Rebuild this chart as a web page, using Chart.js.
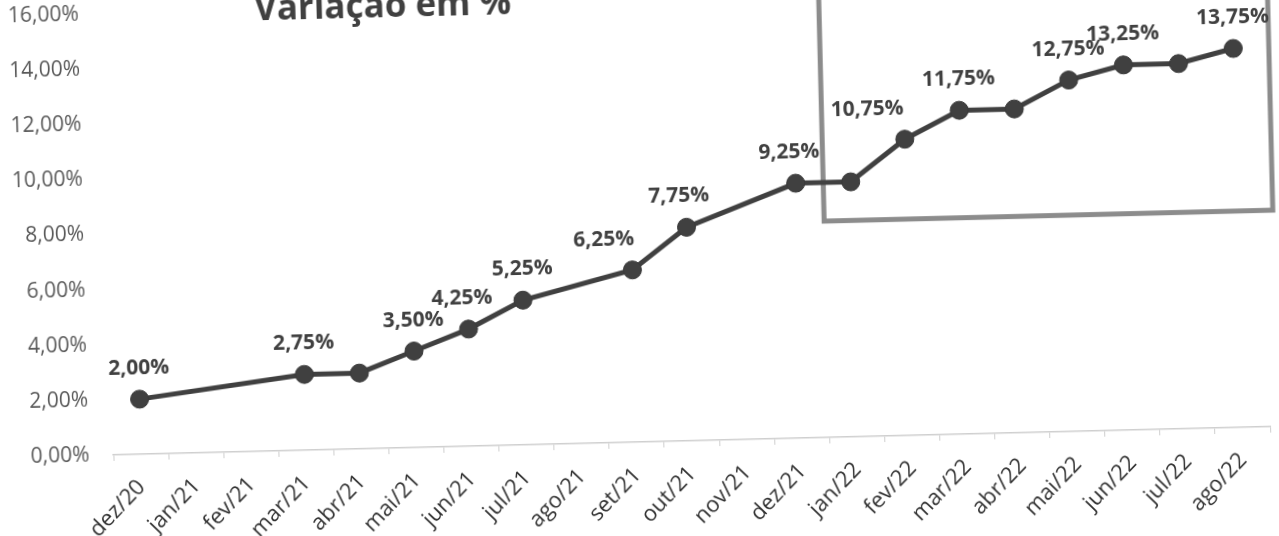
<!DOCTYPE html>
<html lang="pt-BR">
<head>
<meta charset="utf-8">
<title>Variação em %</title>
<script src="https://cdn.jsdelivr.net/npm/chart.js@4.4.0/dist/chart.umd.min.js"></script>
<style>
html, body { margin: 0; padding: 0; width: 1279px; height: 536px; overflow: hidden; background: #fff; }
/* the source is a slightly tilted scan, so the whole chart is turned a little */
#wrap { position: absolute; left: -40px; top: -40px; width: 1359px; height: 616px;
        transform: rotate(-1.4deg); transform-origin: 680px 308px; }
#title { position: absolute; left: 229px; top: 20px; width: 400px; text-align: center;
         font: bold 35px 'Open Sans'; line-height: 35px; color: #404040; }
canvas { position: absolute; left: 0; top: 0; }
</style>
</head>
<body>
<div id="wrap">
  <canvas id="chart" width="1359" height="616"></canvas>
  <div id="title">Variação em %</div>
</div>
<script>
'use strict';

/* global Chart */

let months = ['dez/20', 'jan/21', 'fev/21', 'mar/21', 'abr/21', 'mai/21', 'jun/21', 'jul/21',
    'ago/21', 'set/21', 'out/21', 'nov/21', 'dez/21', 'jan/22', 'fev/22', 'mar/22', 'abr/22',
    'mai/22', 'jun/22', 'jul/22', 'ago/22'];
// null = no point that month, the line just goes across
let rates = [2.00, null, null, 2.75, 2.75, 3.50, 4.25, 5.25, null, 6.25, 7.75, null, 9.25, 9.25,
    10.75, 11.75, 11.75, 12.75, 13.25, 13.25, 13.75];
// months that carry a value label
let labelled = ['dez/20', 'mar/21', 'mai/21', 'jun/21', 'jul/21', 'set/21', 'out/21', 'dez/21',
    'fev/22', 'mar/22', 'mai/22', 'jun/22', 'ago/22'];
let yTicks = [0, 2, 4, 6, 8, 10, 12, 14, 16];

// highlight box: starts between dez/21 and jan/22, bottom at this level
let boxStart = 'dez/21';
let boxBottom = 7.85;

// some labels sit a bit left of their point
let labelShift = { 'jun/21': -6, 'set/21': -28, 'out/21': -7, 'dez/21': -6, 'fev/22': -37 };

let fmt = (v) => v.toFixed(2).replace('.', ',') + '%';

const extras = {
    id: 'extras',
    beforeDatasetsDraw(chart) {
        const { ctx, chartArea, scales: { x, y } } = chart;
        let i = months.indexOf(boxStart);
        let left = (x.getPixelForValue(i) + x.getPixelForValue(i + 1)) / 2;
        let top = chartArea.top - 80;
        let right = chartArea.right + 8;
        let bottom = y.getPixelForValue(boxBottom);
        ctx.save();
        ctx.strokeStyle = '#8c8c8c';
        ctx.lineWidth = 5;
        ctx.strokeRect(left, top, right - left, bottom - top);
        ctx.restore();
    },
    afterDatasetsDraw(chart) {
        const { ctx } = chart;
        let meta = chart.getDatasetMeta(0);
        ctx.save();
        ctx.font = 'bold 21px "Open Sans"';
        ctx.fillStyle = '#404040';
        ctx.textAlign = 'center';
        ctx.textBaseline = 'middle';
        months.forEach((m, i) => {
            if (rates[i] === null || !labelled.includes(m))
                return;
            let pt = meta.data[i];
            ctx.fillText(fmt(rates[i]), pt.x + (labelShift[m] || 0), pt.y - 31);
        });
        ctx.restore();
    }
};

new Chart(document.getElementById('chart'), {
    type: 'line',
    data: {
        labels: months,
        datasets: [{
            data: rates,
            borderColor: '#404040',
            borderWidth: 5,
            pointRadius: 9,
            pointHoverRadius: 9,
            pointBackgroundColor: '#404040',
            pointBorderColor: '#3a3a3a',
            pointBorderWidth: 1,
            spanGaps: true,
            tension: 0
        }]
    },
    options: {
        responsive: false,
        animation: false,
        layout: { padding: { left: 0, top: 41, right: 53, bottom: 0 } },
        plugins: {
            legend: { display: false },
            tooltip: { enabled: false }
        },
        scales: {
            x: {
                offset: true,
                afterFit: (s) => { s.height = 134; },
                grid: {
                    offset: true,
                    drawOnChartArea: false,
                    drawTicks: true,
                    tickLength: 6,
                    color: '#cfcfcf'
                },
                border: { color: '#cfcfcf', width: 1.5 },
                ticks: {
                    autoSkip: false,
                    maxRotation: 45,
                    minRotation: 45,
                    padding: 14,
                    color: '#333333',
                    font: { family: 'Open Sans', size: 22 }
                }
            },
            y: {
                min: 0,
                max: 16,
                afterFit: (s) => { s.width = 149; },
                afterBuildTicks: (s) => { s.ticks = yTicks.map((v) => ({ value: v })); },
                grid: { display: false, drawTicks: false },
                border: { display: false },
                ticks: {
                    padding: 24,
                    color: '#595959',
                    font: { family: 'Open Sans', size: 21 },
                    callback: (v) => fmt(v)
                }
            }
        }
    },
    plugins: [extras]
});
</script>
</body>
</html>
